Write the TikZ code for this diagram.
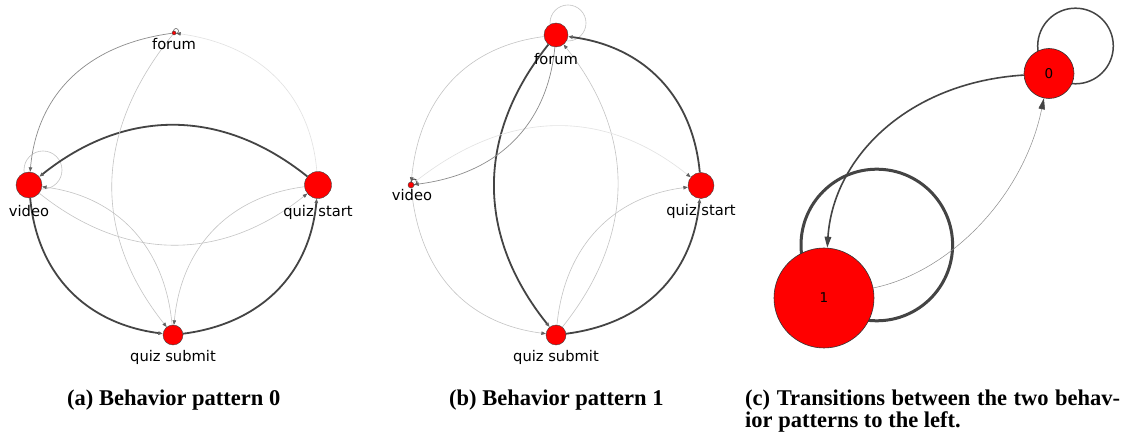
\documentclass[tikz,border=0pt]{standalone}
\usepackage{fontspec}
\newfontfamily\labfont{DejaVu Sans}
\newfontfamily\capfont{Liberation Serif}
\usetikzlibrary{arrows.meta,calc}
\definecolor{dk}{HTML}{444444}
\definecolor{lt}{HTML}{C4C4C4}
\definecolor{vlt}{HTML}{E2E2E2}
\definecolor{md}{HTML}{8C8C8C}
\definecolor{nodered}{HTML}{FF0000}
% quadratic (matplotlib arc3-like) edge: style, from, to, 2*rad
\newcommand\qedge[4]{%
  \path ($(#2.center)!0.5!(#3.center)!#4!-90:(#3.center)$) coordinate (qc);
  \draw[#1] (#2) .. controls ($(#2.center)!0.6667!(qc)$) and ($(#3.center)!0.6667!(qc)$) .. (#3);
}
\begin{document}
\begin{tikzpicture}[x=1bp,y=1bp,
  vtx/.style={circle,fill=nodered,draw=black!75,line width=0.4bp,inner sep=0pt,minimum size=#1},
  lab/.style={font=\labfont\fontsize{14.7bp}{16bp}\selectfont,anchor=base,inner sep=0pt},
  numlab/.style={font=\labfont\fontsize{13.5bp}{15bp}\selectfont},
  captext/.style={font=\capfont\bfseries\fontsize{22.5bp}{25bp}\selectfont,anchor=base west,inner sep=0pt},
  tipsmall/.style={-{Triangle[length=4.5bp,width=3.5bp,color=black!62]}},
  heavy/.style={dk,line width=1.8bp,tipsmall},
  faint/.style={lt,line width=0.6bp,tipsmall},
  midline/.style={md,line width=0.7bp,tipsmall},
  bigtip/.style={-{Triangle[length=11bp,width=6.5bp,color=dk]}}]
\fill[white] (0,0) rectangle (1130,-437);
\useasboundingbox (0,0) rectangle (1130,-437);

% ---------------- panel (a)
\coordinate (aF0) at (174,-33);
\coordinate (aV0) at (29,-185);
\coordinate (aS0) at (318,-185);
\coordinate (aQ0) at (173,-335);
\draw[lt,line width=0.6bp] ([shift={(14,15)}]aV0) circle (19);
\draw[black!60,line width=0.6bp] ([shift={(2,2)}]aF0) circle (2.5);
\node[vtx=26bp] (aV) at (aV0) {};
\node[vtx=27bp] (aS) at (aS0) {};
\node[vtx=20bp] (aQ) at (aQ0) {};
\node[vtx=4bp] (aF) at (aF0) {};
\qedge{heavy}{aS}{aV}{0.8}
\qedge{faint}{aV}{aS}{0.8}
\qedge{heavy}{aV}{aQ}{0.8}
\qedge{heavy}{aQ}{aS}{0.8}
\qedge{midline}{aF}{aV}{0.8}
\qedge{faint,vlt}{aS}{aF}{0.8}
\qedge{faint}{aF}{aQ}{0.8}
\qedge{faint}{aS}{aQ}{0.8}
\qedge{faint}{aQ}{aV}{0.8}
\node[lab] (aFl) at (174,-49.5) {forum};
\node[lab] (aVl) at (29,-216.5) {video};
\node[lab] (aSl) at (318,-216.5) {quiz start};
\node[lab] (aQl) at (173,-361.5) {quiz submit};

% ---------------- panel (b)
\coordinate (bF0) at (556,-35);
\coordinate (bV0) at (411,-185);
\coordinate (bS0) at (701,-185.5);
\coordinate (bQ0) at (556,-335);
\draw[lt,line width=0.6bp] ([shift={(12,12)}]bF0) circle (18);
\draw[dk,line width=1bp] ([shift={(3,3)}]bV0) circle (3);
\node[vtx=24bp] (bF) at (bF0) {};
\node[vtx=6bp] (bV) at (bV0) {};
\node[vtx=26bp] (bS) at (bS0) {};
\node[vtx=20bp] (bQ) at (bQ0) {};
\qedge{heavy}{bS}{bF}{0.8}
\qedge{heavy}{bQ}{bS}{0.8}
\qedge{heavy}{bF}{bQ}{0.8}
\qedge{faint}{bQ}{bF}{0.8}
\qedge{faint,vlt}{bV}{bS}{-0.8}
\qedge{faint}{bQ}{bS}{-0.8}
\qedge{midline}{bF}{bV}{-0.8}
\qedge{faint}{bF}{bV}{0.8}
\qedge{faint}{bV}{bQ}{0.8}
\node[lab] (bFl) at (556,-64.5) {forum};
\node[lab] (bVl) at (412,-201) {video};
\node[lab] (bSl) at (701,-216) {quiz start};
\node[lab] (bQl) at (556,-361.5) {quiz submit};

% ---------------- panel (c)
\coordinate (c00) at (1049,-73.5);
\coordinate (c10) at (824,-298);
\draw[dk,line width=1.5bp] ([shift={(26.5,27.5)}]c00) circle (37.8);
\draw[dk,line width=3bp] ([shift={(52.8,53)}]c10) circle (75.8);
\node[vtx=50bp,numlab,draw=black!80,line width=0.6bp] (c0) at (c00) {0};
\node[vtx=100bp,numlab,draw=black!80,line width=0.6bp] (c1) at (c10) {1};
\qedge{dk,line width=1.6bp,bigtip}{c0}{c1}{0.88}
\qedge{black!45,line width=0.5bp,bigtip}{c1}{c0}{0.66}

% ---------------- captions
\node[captext] (capa) at (67,-406) {(a) Behavior pattern 0};
\node[captext] (capb) at (449,-406) {(b) Behavior pattern 1};
\node[captext] (capc1) at (745,-406) {\makebox[375bp][s]{(c) Transitions between the two behav-}};
\node[captext] (capc2) at (745,-428) {ior patterns to the left.};
\end{tikzpicture}
\end{document}
